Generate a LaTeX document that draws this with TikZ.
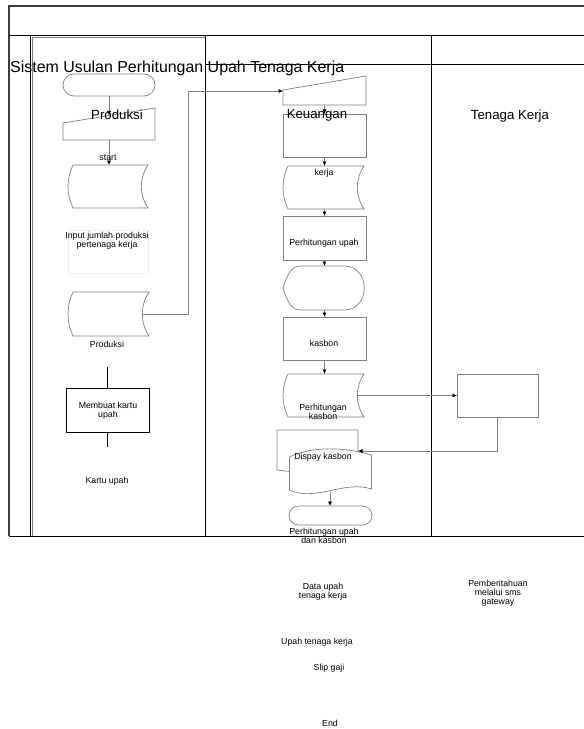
\documentclass[tikz,border=0pt]{standalone}
\usepackage{fontspec}
\setmainfont{Liberation Sans}
\usetikzlibrary{arrows.meta,calc}
\definecolor{shapegray}{RGB}{128,128,128}
\definecolor{framegray}{RGB}{60,60,60}
\newcommand\storeddata[1]{%
  \draw[shp] ($(#1.north west)+(5,0)$) -- (#1.north east)
    .. controls ($(#1.north east)+(-9,14)$) and ($(#1.south east)+(-9,-14)$) .. (#1.south east)
    -- ($(#1.south west)+(5,0)$)
    .. controls ($(#1.south west)+(-1.7,-14)$) and ($(#1.north west)+(-1.7,14)$) .. ($(#1.north west)+(5,0)$) -- cycle;}
\begin{document}
\begin{tikzpicture}[x=1bp,y=-1bp,
  box/.style 2 args={minimum width=#1bp, minimum height=#2bp, inner sep=0pt, outer sep=0pt},
  shp/.style={draw=shapegray, line width=0.7bp, fill=white},
  conn/.style={draw=shapegray, line width=0.7bp, -{Latex[length=4.5bp,width=4bp,color=black]}},
  blk/.style={draw=black, line width=0.8bp},
  lane/.style={draw=black, line width=0.9bp},
  lbl/.style={font=\fontsize{8.8}{8.8}\selectfont, align=center, inner sep=0pt},
  bigl/.style={font=\fontsize{13.3}{15}\selectfont, inner sep=0pt, anchor=base},
  titl/.style={font=\fontsize{16}{18}\selectfont, inner sep=0pt, anchor=base west}]
\useasboundingbox (0,0) rectangle (584,729);

% swimlane frame
\draw[draw=framegray, line width=1.8bp] (584,6) -- (9,6) -- (9,536);
\draw[lane] (9,35) -- (584,35);
\draw[lane] (9,536) -- (584,536);
\draw[shapegray, line width=0.7bp] (32.5,536) -- (32.5,37) -- (205,37);
\draw[lane] (30,35) -- (30,536);
\draw[lane] (205,35) -- (205,536);
\draw[lane] (431,35) -- (431,536);
\draw[lane] (205,64) -- (584,64);

% ---- left column
\node[box={92}{22}, shp, rounded corners=11bp] (t1) at (109,85) {};
\node[box={92}{32}] (mi1) at (109,124) {};
\draw[shp] (mi1.south west) -- (mi1.south east) -- (mi1.north east) -- ($(mi1.north west)+(0,15)$) -- cycle;
\coordinate (mi1-in) at (109,115.5);
\node[box={80}{43}] (sd1) at (108,186.5) {};
\storeddata{sd1}
\node[box={80}{43}, draw=gray!12, line width=0.5bp] (faint) at (108,251.5) {};
\node[box={81}{44}] (sd2) at (108.5,314) {};
\storeddata{sd2}
\coordinate (sd2-out) at ($(sd2.east)+(-6.75,0)$);
\node[box={83}{44}, blk] (r1) at (107.5,410) {};
\coordinate (r1-top) at (107.5,367);
\coordinate (r1-bot) at (107.5,447);

% ---- middle column
\node[box={83}{29}] (mi2) at (324.5,90.5) {};
\draw[shp] (mi2.south west) -- (mi2.south east) -- (mi2.north east) -- ($(mi2.north west)+(0,14)$) -- cycle;
\coordinate (mi2-in) at (283,91);
\coordinate (bend1) at (188,91);
\node[box={83}{43}, shp] (r2) at (324.5,135.5) {};
\node[box={81}{43}] (sd3) at (323.5,187.5) {};
\storeddata{sd3}
\node[box={83}{44}, shp] (r3) at (324.5,238) {};
\node[box={82}{44}] (disp) at (324,288) {};
\draw[shp] (disp.west) .. controls ($(disp.west)+(5,-16)$) and ($(disp.north west)+(9,0)$) .. ($(disp.north west)+(18,0)$)
  -- ($(disp.north east)+(-21,0)$) .. controls ($(disp.north east)+(6,0)$) and ($(disp.south east)+(6,0)$) .. ($(disp.south east)+(-21,0)$)
  -- ($(disp.south west)+(18,0)$) .. controls ($(disp.south west)+(9,0)$) and ($(disp.west)+(5,16)$) .. (disp.west) -- cycle;
\node[box={83}{43}, shp] (r4) at (324.5,338.5) {};
\node[box={81}{43}] (sd4) at (323.5,395.5) {};
\storeddata{sd4}
\coordinate (sd4-out) at ($(sd4.east)+(-6.75,0)$);
% multi document
\node[box={81}{40}] (mdb) at (317.5,450) {};
\node[box={82}{36}] (mdf) at (330.5,473) {};
\draw[shp, fill=none] (289.5,471.5) -- (mdb.south west) -- (mdb.north west) -- (mdb.north east) -- (358,451);
\draw[shp] (289.5,457) .. controls (312,446) and (345,447) .. (371.5,455)
  -- (371.5,489) .. controls (345,480) and (315,502) .. (289.5,490) -- cycle;
\coordinate (mdb-in) at (358,451);
\coordinate (mdf-out) at (330,491.5);
\node[box={83}{19}, shp, rounded corners=9.5bp] (t2) at (330.5,515.5) {};

% ---- right column
\node[box={81}{43}, shp] (r5) at (497.5,395.5) {};

% ---- connectors
\draw[conn] (t1.south) -- (mi1-in);
\draw[conn] (mi1.south) -- (mi1.south |- sd1.north);
\draw[conn] (sd2-out) -| (bend1) -- (mi2-in);
\draw[blk] (r1-top) -- (r1.north);
\draw[blk] (r1.south) -- (r1-bot);
\draw[conn] (mi2.south) -- (r2.north);
\draw[conn] (r2.south) -- (r2.south |- sd3.north);
\draw[conn] (r2.south |- sd3.south) -- (r3.north);
\draw[conn] (r3.south) -- (r3.south |- disp.north);
\draw[conn] (r3.south |- disp.south) -- (r4.north);
\draw[conn] (r4.south) -- (r4.south |- sd4.north);
\draw[conn] (sd4-out) -- (sd4-out -| r5.west);
\draw[conn] (r5.south) |- (mdb-in);
\draw[conn] (mdf-out) -- (mdf-out |- t2.north);

% ---- texts
\node[titl] (title) at (10,72.5) {Sistem Usulan Perhitungan Upah Tenaga Kerja};
\node[bigl] (lprod) at (117,120) {Produksi};
\node[bigl] (lkeu) at (317,119) {Keuangan};
\node[bigl] (ltk) at (510,119.5) {Tenaga Kerja};
\node[lbl] (lstart) at (108,157.5) {start};
\node[lbl] (linput) at (107,241) {Input jumlah produksi\\pertenaga kerja};
\node[lbl] (lprod2) at (107,344) {Produksi};
\node[lbl] (lmemb) at (108,410.5) {Membuat kartu\\upah};
\node[lbl] (lkartu) at (107,481) {Kartu upah};
\node[lbl] (lkerja) at (324,173) {kerja};
\node[lbl] (lphu) at (324,243) {Perhitungan upah};
\node[lbl] (lkas) at (324,343) {kasbon};
\node[lbl] (lphk) at (323,411.5) {Perhitungan\\kasbon};
\node[lbl] (ldisp) at (323,457) {Dispay kasbon};
\node[lbl] (lphuk) at (324,535.5) {Perhitungan upah\\dan kasbon};
\node[lbl] (ldata) at (323,591.5) {Data upah\\tenaga kerja};
\node[lbl] (lpemb) at (498,593) {Pemberitahuan\\melalui sms\\gateway};
\node[lbl] (lupah) at (317,642) {Upah tenaga kerja};
\node[lbl] (lslip) at (329,668) {Slip gaji};
\node[lbl] (lend) at (330,723) {End};
\end{tikzpicture}
\end{document}
